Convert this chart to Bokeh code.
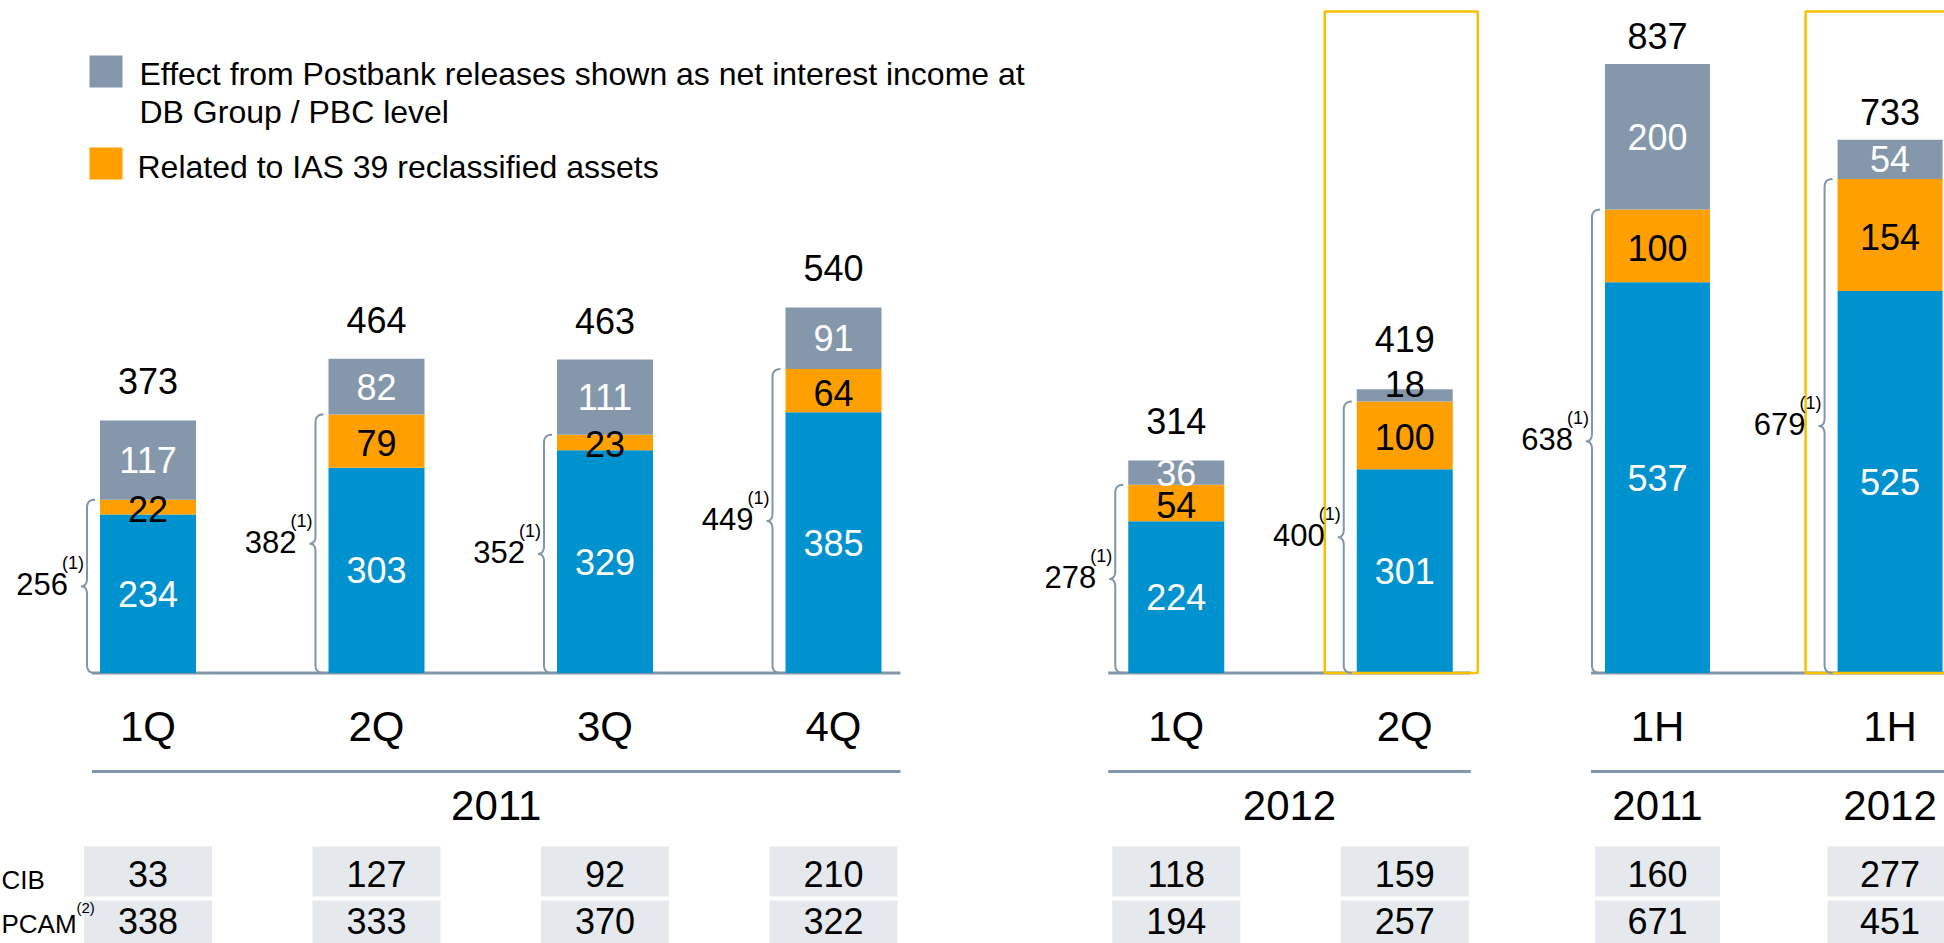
import numpy as np
from bokeh.plotting import figure
from bokeh.models import Range1d
from bokeh.core.properties import value
from bokeh.embed import file_html
from bokeh.resources import INLINE

# ---------------- data ----------------
periods = ["1Q", "2Q", "3Q", "4Q", "1Q", "2Q", "1H", "1H"]
years = ["2011", "2011", "2011", "2011", "2012", "2012", "2011", "2012"]
core_values = [234, 303, 329, 385, 224, 301, 537, 525]          # blue
ias39_values = [22, 79, 23, 64, 54, 100, 100, 154]             # orange
postbank_values = [117, 82, 111, 91, 36, 18, 200, 54]          # grey
total_labels = [373, 464, 463, 540, 314, 419, 837, 733]
bracket_labels = [256, 382, 352, 449, 278, 400, 638, 679]
cib_values = [33, 127, 92, 210, 118, 159, 160, 277]
pcam_values = [338, 333, 370, 322, 194, 257, 671, 451]
highlighted = [("2Q", "2012"), ("1H", "2012")]
row_labels = ["CIB", "PCAM"]
row_notes = ["", "(2)"]
bracket_note = "(1)"
legend_postbank = ["Effect from Postbank releases shown as net interest income at",
                   "DB Group / PBC level"]
legend_ias39 = "Related to IAS 39 reclassified assets"

# layout groups: 2011 quarters, 2012 quarters, half years
panel_of = [0, 0, 0, 0, 1, 1, 2, 2]

# ---------------- style / layout ----------------
FONT = value("Liberation Sans")
BLUE = "#0092CF"
ORANGE = "#FFA000"
GREY = "#8497AB"
RULE = "#8196A9"
GOLD = "#F7C100"
CELL = "#E5E8EC"

W, H = 1944, 943
BASE = 672.5            # baseline, px from top
X0, XU = 147.5, 228.5   # px of first bar centre, px per slot
KQ, KH = 0.677, 0.7275  # px per value unit (quarters / half years)
panel_k = [KQ, KQ, KH]
panel_rng = ["default", "default", "half"]
panel_start = [0.0, 4.5, 6.606]
panel_step = [1.0, 1.0, 1.018]
panel_barw = [96, 96, 105]
panel_pad = [(8, 19), (20, 18), (14, 80)]
panel_gap = [39, 39, 28]   # px from bar top to centre of total label


def ux(px):
    return (px - X0) / XU


def uy(py):
    return (BASE - py) / KQ


def dx(px):
    return px / XU


p = figure(width=W, height=H, output_backend="svg", toolbar_location=None,
           x_range=Range1d(-X0 / XU, (W - X0) / XU),
           y_range=Range1d(-(H - BASE) / KQ, BASE / KQ),
           x_axis_type=None, y_axis_type=None, min_border=0,
           outline_line_color=None, background_fill_color="white",
           border_fill_color="white")
p.extra_y_ranges = {"half": Range1d(-(H - BASE) / KH, BASE / KH)}

n = len(periods)
pos = []
counter = {}
for pn in panel_of:
    j = counter.get(pn, 0)
    counter[pn] = j + 1
    pos.append(panel_start[pn] + panel_step[pn] * j)


def qbez(p0, p1, p2, m=10):
    t = np.linspace(0, 1, m)
    x = (1 - t) ** 2 * p0[0] + 2 * (1 - t) * t * p1[0] + t ** 2 * p2[0]
    y = (1 - t) ** 2 * p0[1] + 2 * (1 - t) * t * p1[1] + t ** 2 * p2[1]
    return list(x), list(y)


def brace(xl, top, k):
    sp = xl - dx(13)
    tip = sp - dx(6)
    end = sp + dx(8)
    r = 8 / k
    r2 = 8 / k
    m = top / 2
    xs, ys = [], []
    for seg in (((end, 0), (sp, 0), (sp, r)),
                ((sp, m - r2), (sp, m), (tip, m)),
                ((tip, m), (sp, m), (sp, m + r2)),
                ((sp, top - r), (sp, top), (end, top))):
        a, b = qbez(*seg)
        xs += a
        ys += b
    return xs, ys


def label(x, y, text, size, align="center", color="black", **kw):
    p.text(x=x, y=y, text=text, text_align=align, text_baseline="middle",
           text_font=FONT, text_font_size=size, text_color=color, **kw)


# ---------------- baselines, separators, year labels ----------------
for pn in range(3):
    ids = [i for i in range(n) if panel_of[i] == pn]
    left = pos[ids[0]] - dx(panel_barw[pn] / 2 + panel_pad[pn][0])
    right = pos[ids[-1]] + dx(panel_barw[pn] / 2 + panel_pad[pn][1])
    p.segment(x0=[left], x1=[right], y0=[0], y1=[0], line_color=RULE, line_width=3)
    p.segment(x0=[left], x1=[right], y0=[uy(771)], y1=[uy(771)], line_color=RULE, line_width=3)
    if pn < 2:
        label([(left + right) / 2], [uy(805)], [years[ids[0]]], "42px")
    else:
        label([pos[i] for i in ids], [uy(805)] * len(ids), [years[i] for i in ids], "42px")

# ---------------- bars & labels ----------------
for rname in ("default", "half"):
    ids = [i for i in range(n) if panel_rng[panel_of[i]] == rname]
    c = np.array([core_values[i] for i in ids], float)
    o = np.array([ias39_values[i] for i in ids], float)
    g = np.array([postbank_values[i] for i in ids], float)
    xs = np.array([pos[i] for i in ids])
    ws = np.array([dx(panel_barw[panel_of[i]]) for i in ids])
    ks = np.array([panel_k[panel_of[i]] for i in ids])
    for lo, hi, col in ((0 * c, c, BLUE), (c, c + o, ORANGE), (c + o, c + o + g, GREY)):
        p.vbar(x=xs, width=ws, bottom=lo, top=hi, fill_color=col, line_color=None,
               y_range_name=rname)

    tx, ty, tt, tc = [], [], [], []
    totx, toty, tott = [], [], []
    bxs, bys = [], []
    blx, bly, blt, nsx, nsy = [], [], [], [], []
    for j, i in enumerate(ids):
        k = ks[j]
        tx += [xs[j], xs[j]]
        ty += [c[j] / 2, c[j] + o[j] / 2 - 2 / k]
        tt += [str(core_values[i]), str(ias39_values[i])]
        tc += ["white", "black"]
        small = g[j] < 25
        top = c[j] + o[j] + g[j]
        tx.append(xs[j])
        tt.append(str(postbank_values[i]))
        if small:
            ty.append(top + 5.5 / k)
            tc.append("black")
        else:
            ty.append(c[j] + o[j] + g[j] / 2)
            tc.append("white")
        gap = panel_gap[panel_of[i]] + (11 if small else 0)
        totx.append(xs[j])
        toty.append(top + gap / k)
        tott.append(str(total_labels[i]))
        # brace
        xl = xs[j] - ws[j] / 2
        bx, by = brace(xl, c[j] + o[j], k)
        bxs.append(bx)
        bys.append(by)
        tip = xl - dx(19)
        blx.append(tip - dx(13))
        bly.append((c[j] + o[j]) / 2 + 2 / k)
        blt.append(str(bracket_labels[i]))
        nsx.append(tip + dx(3))
        nsy.append((c[j] + o[j]) / 2 + 23 / k)
        # highlight box
        if (periods[i], years[i]) in highlighted:
            p.quad(left=[xl - dx(32)], right=[xs[j] + ws[j] / 2 + dx(25)],
                   bottom=[0], top=[(BASE - 11) / k], fill_color=None,
                   line_color=GOLD, line_width=2.5, y_range_name=rname)

    label(tx, ty, tt, "36px", color=tc, y_range_name=rname)
    label(totx, toty, tott, "36px", y_range_name=rname)
    p.multi_line(xs=bxs, ys=bys, line_color=RULE, line_width=2, y_range_name=rname)
    label(blx, bly, blt, "31px", align="right", y_range_name=rname)
    label(nsx, nsy, [bracket_note] * len(nsx), "18px", align="right", y_range_name=rname)

# ---------------- category labels ----------------
label(pos, [uy(726)] * n, periods, "42px")

# ---------------- table ----------------
row_centres = [871, 925]
text_centres = [873, 920]
label_centres = [879, 923]
cell_w = [dx(128) if panel_of[i] < 2 else dx(125) for i in range(n)]
for r, vals in enumerate((cib_values, pcam_values)):
    p.rect(x=pos, y=[uy(row_centres[r])] * n, width=cell_w, height=[50 / KQ] * n,
           fill_color=CELL, line_color=None)
    label(pos, [uy(text_centres[r])] * n, [str(v) for v in vals], "36px")
    label([ux(1)], [uy(label_centres[r])], [row_labels[r]], "26px", align="left")
    if row_notes[r]:
        label([ux(76)], [uy(907)], [row_notes[r]], "15px", align="left")

# ---------------- legend ----------------
p.rect(x=[ux(105.5), ux(105.5)], y=[uy(71), uy(163)], width=[dx(33)] * 2,
       height=[32 / KQ] * 2, fill_color=[GREY, ORANGE], line_color=None)
label([ux(139), ux(139), ux(137)], [uy(73), uy(111), uy(166)],
      legend_postbank + [legend_ias39], "32px", align="left")

open("out.html", "w").write(file_html(p, INLINE))
